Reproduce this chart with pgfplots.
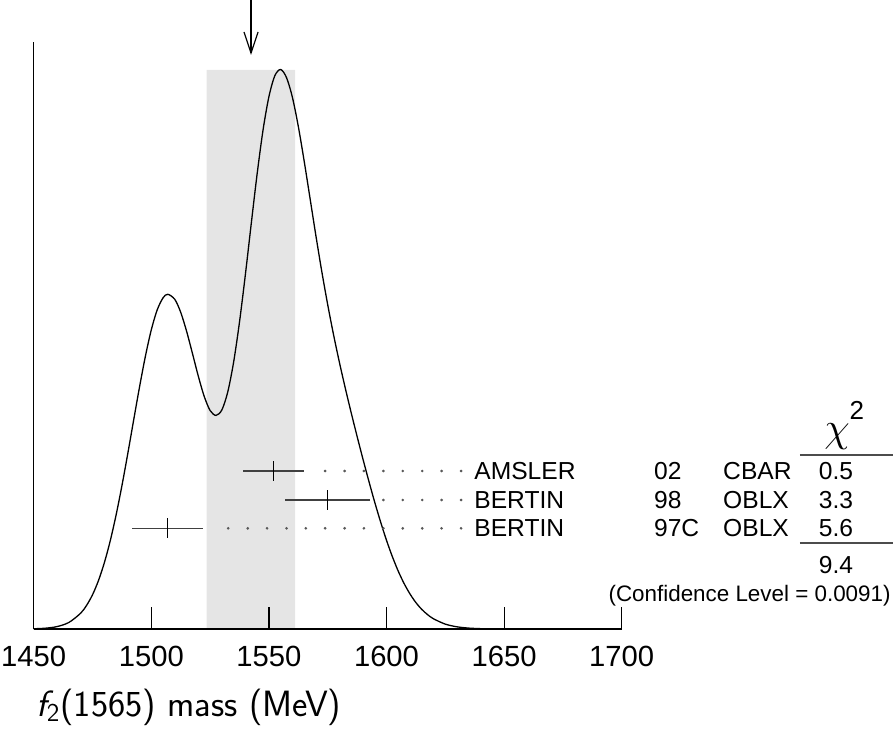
\documentclass[border=0pt]{standalone}
\usepackage{pgfplots}
\pgfplotsset{compat=1.18}
\usepackage{fontspec}
\setmainfont{Liberation Sans}
\begin{document}
\begin{tikzpicture}
\begin{axis}[
    scale only axis, width=294pt, height=293.5pt,
    xmin=1450, xmax=1700, ymin=0, ymax=587,
    axis x line=bottom, axis y line=left,
    axis line style={-, line width=0.7pt},
    axis on top, clip=false,
    xtick={1450,1500,1550,1600,1650,1700},
    xticklabels={1450,1500,1550,1600,1650,1700},
    ytick=\empty,
    xtick align=inside, major tick length=11pt,
    x tick style={line width=0.6pt, black},
    xticklabel style={inner sep=0pt, yshift=-8.5pt, font=\fontsize{14.6}{17}\selectfont},
  ]
  % weighted average band
  \addplot[fill=black!10, draw=none] coordinates {
    (1523.5,0) (1523.5,559) (1561.1,559) (1561.1,0)} \closedcycle;

  % ideogram
  \addplot[black, line width=0.65pt, smooth] coordinates {
    (1450,0.24) (1455,0.82) (1460,2.46) (1465,6.62) (1470,15.9) (1472.5,23.7)
    (1475,34.2) (1477.5,48.2) (1480,66.0) (1482.5,87.8) (1485,113.7) (1487.5,143.2)
    (1490,175.4) (1492.5,209.0) (1495,242.1) (1497.5,272.9) (1500,299.2) (1502.5,319.1)
    (1505,331.2) (1507,334.7) (1510,329.6) (1512.5,316.7) (1515,297.8) (1517.5,275.5)
    (1520,252.7) (1522.5,232.6) (1525,218.5) (1527.5,213.6) (1530,219.1) (1532.5,237.0)
    (1535,266.9) (1537.5,307.0) (1540,354.5) (1542.5,405.5) (1545,455.2) (1547.5,498.9)
    (1550,532.3) (1552.5,553.2) (1555,559.5) (1557.5,551.3) (1560,531.6) (1562.5,502.6)
    (1565,467.8) (1567.5,430.5) (1570,393.0) (1572.5,357.3) (1575,324.3) (1577.5,294.1)
    (1580,266.4) (1582.5,240.6) (1585,216.1) (1587.5,192.6) (1590,169.8) (1592.5,147.8)
    (1595,126.7) (1597.5,107.0) (1600,88.7) (1602.5,72.3) (1605,57.8) (1607.5,45.4)
    (1610,35.0) (1612.5,26.4) (1615,19.6) (1617.5,14.3) (1620,10.2) (1625,4.88)
    (1630,2.17) (1635,0.90) (1640,0.34) (1645,0.12) (1650,0.04) (1660,0) (1700,0)};

  % dotted leaders
  \addplot[only marks, mark=*, mark size=0.45pt, black!65] coordinates {
    (1573.9,158) (1582.2,158) (1590.4,158) (1598.7,158) (1606.9,158) (1615.2,158) (1623.4,158) (1631.7,158)
    (1598.7,129) (1606.9,129) (1615.2,129) (1623.4,129) (1631.7,129)
    (1532.7,100.7) (1541.0,100.7) (1549.2,100.7) (1557.5,100.7) (1565.7,100.7) (1573.9,100.7)
    (1582.2,100.7) (1590.4,100.7) (1598.7,100.7) (1606.9,100.7) (1615.2,100.7) (1623.4,100.7) (1631.7,100.7)};

  % measurements
  \addplot[only marks, mark=|, mark size=5pt, mark options={black, line width=0.6pt},
    error bars/.cd, x dir=both, x explicit, error mark=none,
    error bar style={black!75, line width=0.8pt}] coordinates {
    (1552,158) +- (13,0)
    (1575,129) +- (18,0)
    (1507,100.7) +- (15,0)};

  % arrow at the weighted mean
  \draw[line width=0.6pt] (axis cs:1542.4,629) -- (axis cs:1542.4,576);
  \draw[line width=0.6pt] (axis cs:1539.4,597) -- (axis cs:1542.4,576) -- (axis cs:1545.4,597);

  % table of measurements
  \begin{scope}[every node/.style={inner sep=0pt, font=\fontsize{12.3}{14}\selectfont}]
    \node[anchor=base west] at (axis cs:1637.2,149.5) {AMSLER};
    \node[anchor=base west] at (axis cs:1637.2,120.5) {BERTIN};
    \node[anchor=base west] at (axis cs:1637.2,92.2) {BERTIN};
    \node[anchor=base west] at (axis cs:1713.6,149.5) {02};
    \node[anchor=base west] at (axis cs:1713.6,120.5) {98};
    \node[anchor=base west] at (axis cs:1713.6,92.2) {97C};
    \node[anchor=base west] at (axis cs:1743.0,149.5) {CBAR};
    \node[anchor=base west] at (axis cs:1743.0,120.5) {OBLX};
    \node[anchor=base west] at (axis cs:1743.0,92.2) {OBLX};
    \node[anchor=base] at (axis cs:1791.1,149.5) {0.5};
    \node[anchor=base] at (axis cs:1791.1,120.5) {3.3};
    \node[anchor=base] at (axis cs:1791.1,92.2) {5.6};
    \node[anchor=base] at (axis cs:1791.1,55.5) {9.4};
    \node[anchor=base east, font=\fontsize{11.2}{13}\selectfont] at (axis cs:1814.5,28) {(Confidence Level = 0.0091)};
  \end{scope}
  \node[inner sep=0pt, anchor=base] at (axis cs:1794.6,188) {\fontsize{22}{24}\selectfont$\chi$\raisebox{0.5em}{\fontsize{13}{13}\selectfont 2}};
  \draw[black!70, line width=0.7pt] (axis cs:1775.8,174) -- (axis cs:1815.35,174);
  \draw[black!70, line width=0.7pt] (axis cs:1775.8,86) -- (axis cs:1815.35,86);

  % axis title
  \node[inner sep=0pt, anchor=base west, font=\sffamily\fontsize{18.3}{21}\selectfont]
    at (axis cs:1451,-87) {{\itshape f}$_{\mathsf{2}}$(1565) mass (MeV)};

  \coordinate (bbl) at (axis cs:1435.67,-100);
  \coordinate (btr) at (axis cs:1815.35,629);
\end{axis}
\pgfresetboundingbox
\useasboundingbox (bbl) rectangle (btr);
\end{tikzpicture}
\end{document}
